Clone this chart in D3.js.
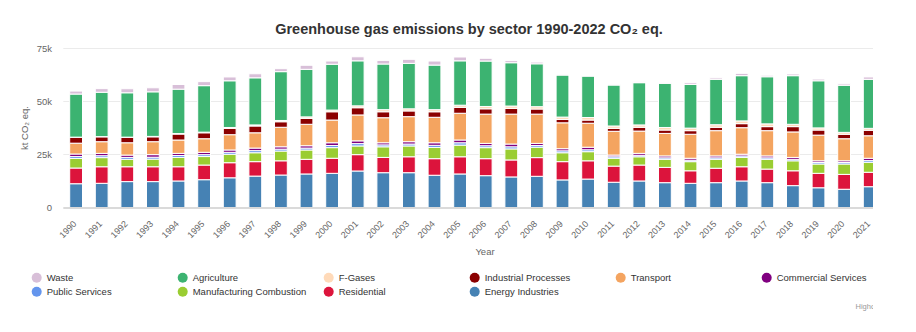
<!DOCTYPE html>
<html>
<head>
<meta charset="utf-8">
<script src="https://cdn.jsdelivr.net/npm/d3@7/dist/d3.min.js"></script>
<style>
  body { margin: 0; background: #fff; font-family: "Liberation Sans", Arial, sans-serif; }
  .title { font-size: 14.5px; font-weight: bold; fill: #333; }
  .tick-label { font-size: 9px; fill: #666; }
  .axis-title { font-size: 9.5px; fill: #666; }
  .legend-label { font-size: 9.5px; fill: #333; }
  .credits { font-size: 7.5px; fill: #999; }
</style>
</head>
<body>
<div id="chart"></div>
<script>
// values in kt CO2 eq
var years = ['1990','1991','1992','1993','1994','1995','1996','1997','1998','1999','2000','2001','2002','2003','2004','2005',
             '2006','2007','2008','2009','2010','2011','2012','2013','2014','2015','2016','2017','2018','2019','2020','2021'];

var energyIndustries = [11.2,11.4,12.2,12.2,12.5,13.1,14.0,14.8,15.3,15.8,16.1,17.2,16.4,16.4,15.2,15.8,
                        15.0,14.4,14.7,13.0,13.4,11.9,12.5,11.7,11.4,11.7,12.5,11.7,10.3,9.3,8.6,9.8];
var residential = [7.4,7.8,7.0,7.0,6.7,6.9,7.1,6.8,6.7,6.9,7.1,7.7,7.2,7.5,7.8,8.1,
                   8.0,8.0,8.8,8.6,8.6,7.6,7.5,7.2,5.9,6.8,6.7,6.4,7.0,6.8,7.0,6.8];
var manufacturingCombustion = [4.5,4.3,3.5,3.6,4.4,4.0,4.0,4.2,4.6,4.4,5.0,4.1,5.0,5.1,5.3,5.5,
                               5.2,5.2,4.9,4.2,4.3,3.7,3.9,3.8,4.3,4.2,4.4,4.6,4.7,4.4,4.9,4.7];
var publicServices = [0.9,0.9,0.9,0.9,0.9,0.9,0.9,1.0,0.9,0.9,1.0,1.1,0.9,0.9,1.0,1.1,
                      0.9,1.0,0.8,0.9,0.9,0.7,0.7,0.7,0.7,0.7,0.7,0.7,0.7,0.7,0.7,0.8];
var commercialServices = [1.2,1.1,1.1,1.2,1.0,1.1,1.1,1.2,1.1,1.1,1.3,1.3,1.0,1.1,1.2,1.3,
                          1.1,1.3,1.0,1.0,1.2,0.8,0.9,0.9,0.9,0.9,0.8,0.9,0.9,0.8,0.8,1.1];
var transport = [5.1,5.5,5.8,6.1,6.3,6.4,7.2,7.2,9.2,10.1,10.7,12.2,11.8,11.8,12.0,12.6,
                 13.8,14.1,13.8,12.2,11.3,11.2,10.5,10.6,11.3,11.9,12.5,11.9,12.0,12.1,10.4,10.6];
var industrialProcesses = [2.8,2.3,2.5,2.3,2.8,2.8,3.0,3.2,2.6,2.8,3.9,3.4,2.8,2.7,2.6,2.8,
                           2.5,2.7,2.4,1.6,1.5,1.4,1.8,1.6,1.7,1.6,1.9,1.9,2.5,2.4,2.1,2.6];
var fGases = [0.05,0.1,0.15,0.2,0.25,0.3,0.4,0.5,0.6,0.7,0.8,0.9,1.0,1.0,1.0,1.0,
              1.1,1.1,1.1,1.1,1.2,1.1,1.1,1.2,1.2,1.2,1.3,1.3,1.1,1.0,0.9,0.9];
var agriculture = [20.3,20.9,20.9,21.0,20.9,21.9,22.0,22.2,23.0,22.4,21.6,21.2,21.5,21.4,21.0,20.9,
                   21.4,20.4,20.2,19.8,19.5,19.3,19.9,20.8,20.6,21.4,21.3,22.2,22.9,22.2,22.2,23.1];
var waste = [1.4,1.7,1.9,1.9,2.2,1.9,1.8,1.9,1.4,1.9,1.5,1.9,1.7,1.9,1.9,1.8,
             1.3,1.0,0.8,0.5,0.4,0.5,0.5,0.5,0.8,0.7,1.1,0.7,0.8,0.8,0.7,1.1];

var seriesNames = ['Waste','Agriculture','F-Gases','Industrial Processes','Transport','Commercial Services',
                   'Public Services','Manufacturing Combustion','Residential','Energy Industries'];
var seriesValues = [waste, agriculture, fGases, industrialProcesses, transport, commercialServices,
                    publicServices, manufacturingCombustion, residential, energyIndustries];
var seriesColors = ['#D8BFD8','#3CB371','#FFDAB9','#8B0000','#F4A460','#800080',
                    '#6495ED','#9ACD32','#DC143C','#4682B4'];
var yTicks = [0, 25000, 50000, 75000];

var width = 916, height = 332;
var plot = {left: 63.3, right: 882.5, top: 48.3, bottom: 207.5};

var svg = d3.select('#chart').append('svg')
    .attr('width', width)
    .attr('height', height);

// the reference is cut off on the right
svg.append('clipPath').attr('id', 'cut')
  .append('rect').attr('x', 0).attr('y', 0).attr('width', 873).attr('height', height);

var g = svg.append('g').attr('clip-path', 'url(#cut)');

// rows for d3.stack, values scaled to kt
var rows = years.map(function(y, i) {
  var row = {year: y};
  seriesNames.forEach(function(name, s) { row[name] = seriesValues[s][i] * 1000; });
  return row;
});

// stack bottom-up: reverse of the legend order
var stackKeys = seriesNames.slice().reverse();
var stacked = d3.stack().keys(stackKeys)(rows);

var x = d3.scaleBand()
  .domain(years)
  .range([plot.left, plot.right])
  .paddingInner(0.5)
  .paddingOuter(0.25);

var y = d3.scaleLinear()
  .domain([0, 75000])
  .range([plot.bottom, plot.top]);

g.append('text')
  .attr('class', 'title')
  .attr('x', 469)
  .attr('y', 33.5)
  .attr('text-anchor', 'middle')
  .text('Greenhouse gas emissions by sector 1990-2022 CO\u2082 eq.');

// gridlines
g.append('g').selectAll('line')
    .data(yTicks.slice(1))
  .enter().append('line')
    .attr('x1', plot.left)
    .attr('x2', plot.right)
    .attr('y1', function(d) { return Math.round(y(d)) + 0.5; })
    .attr('y2', function(d) { return Math.round(y(d)) + 0.5; })
    .attr('stroke', '#ebebeb')
    .attr('stroke-width', 1);

// y labels
g.append('g').selectAll('text')
    .data(yTicks)
  .enter().append('text')
    .attr('class', 'tick-label')
    .style('font-size', '9.5px')
    .attr('x', 52)
    .attr('y', function(d) { return y(d); })
    .attr('dy', '0.35em')
    .attr('text-anchor', 'end')
    .text(function(d) { return d == 0 ? '0' : d3.format('d')(d / 1000) + 'k'; });

g.append('text')
  .attr('class', 'axis-title')
  .attr('transform', 'translate(28,128) rotate(-90)')
  .attr('text-anchor', 'middle')
  .text('kt CO\u2082 eq.');

// bars
var layers = g.append('g').selectAll('g')
    .data(stacked)
  .enter().append('g')
    .attr('fill', function(d) { return seriesColors[seriesNames.indexOf(d.key)]; });

layers.selectAll('rect')
    .data(function(d) { return d; })
  .enter().append('rect')
    .attr('x', function(d) { return x(d.data.year); })
    .attr('y', function(d) { return y(d[1]); })
    .attr('width', x.bandwidth())
    .attr('height', function(d) { return y(d[0]) - y(d[1]); })
    .attr('stroke', '#fff')
    .attr('stroke-width', 1);

// x axis line
g.append('line')
  .attr('x1', plot.left)
  .attr('x2', plot.right)
  .attr('y1', plot.bottom + 0.5)
  .attr('y2', plot.bottom + 0.5)
  .attr('stroke', '#b5b5b5');

// x labels
g.append('g').selectAll('text')
    .data(years)
  .enter().append('text')
    .attr('class', 'tick-label')
    .attr('text-anchor', 'end')
    .attr('transform', function(d) {
      return 'translate(' + (x(d) + x.bandwidth() / 2 + 1) + ',224.5) rotate(-45)';
    })
    .text(function(d) { return d; });

g.append('text')
  .attr('class', 'axis-title')
  .attr('x', 485)
  .attr('y', 255)
  .attr('text-anchor', 'middle')
  .text('Year');

// legend, 6 columns
var legend = g.append('g').selectAll('g')
    .data(seriesNames)
  .enter().append('g')
    .attr('transform', function(d, i) {
      return 'translate(' + (36.7 + (i % 6) * 146) + ',' + (277.7 + Math.floor(i / 6) * 14) + ')';
    });

legend.append('circle')
  .attr('r', 5)
  .attr('fill', function(d, i) { return seriesColors[i]; });

legend.append('text')
  .attr('class', 'legend-label')
  .attr('x', 10)
  .attr('dy', '0.35em')
  .text(function(d) { return d; });

g.append('text')
  .attr('class', 'credits')
  .attr('x', 855.5)
  .attr('y', 309)
  .text('Highcharts.com');
</script>
</body>
</html>
